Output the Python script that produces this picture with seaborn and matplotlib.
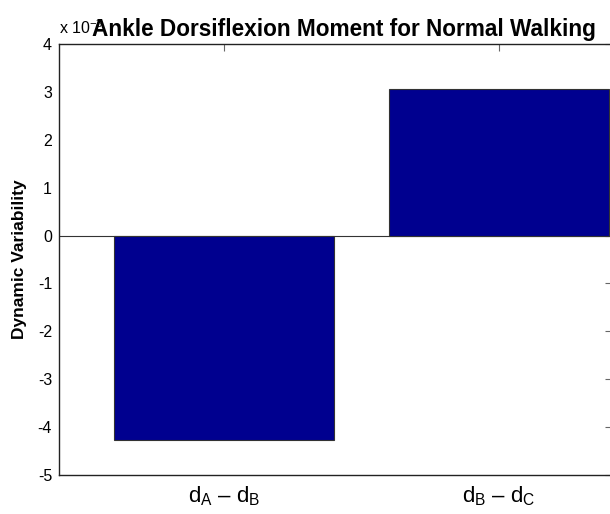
import numpy as np
import pandas as pd
import matplotlib
matplotlib.use('Agg')
import matplotlib.pyplot as plt
import seaborn as sns

# values in units of 1e-3
labels = ['d$_\\mathregular{A}$ \u2013 d$_\\mathregular{B}$', 'd$_\\mathregular{B}$ \u2013 d$_\\mathregular{C}$']
values = [-4.27, 3.05]
yticks = [-5, -4, -3, -2, -1, 0, 1, 2, 3, 4]

sns.set_style('white')
plt.rcParams['font.family'] = ['Liberation Sans', 'DejaVu Sans']
plt.rcParams['mathtext.fontset'] = 'custom'
plt.rcParams['mathtext.rm'] = 'Liberation Sans'
plt.rcParams['text.color'] = 'black'

df = pd.DataFrame({'pair': labels, 'dv': values})

fig = plt.figure(figsize=(6.1, 5.14), dpi=100)
# right edge of the axes sits just past the image edge, as in the original
ax = fig.add_axes([59 / 610, 1 - 475 / 514, 553 / 610, 431 / 514])

sns.barplot(data=df, x='pair', y='dv', color='#00008F', saturation=1,
            edgecolor='#333333', linewidth=0.8, width=0.8, ax=ax)
ax.axhline(0, color='#333333', lw=0.8, zorder=0)

ax.set_xlim(-0.6, 1.41)
ax.set_ylim(-5, 4)
ax.set_yticks(yticks)
ax.set_yticklabels([str(t) for t in yticks], fontsize=11.5)
ax.tick_params(axis='x', labelsize=16, pad=7)
ax.tick_params(axis='y', pad=5)
ax.tick_params(direction='in', length=5, width=0.8, colors='#666666',
               top=True, right=True, labelcolor='black')
for s in ax.spines.values():
    s.set_color('#222222')
    s.set_linewidth(1.0)

ax.set_xlabel('')
ax.set_ylabel('Dynamic Variability', fontsize=12.5, fontweight='bold',
              labelpad=8, color='black')
# exponent marker, partly hidden behind the title as in the original
ax.text(0.0, 1.017, 'x 10$^{-3}$', transform=ax.transAxes, fontsize=11.5,
        ha='left', va='bottom', zorder=1)
ax.set_title('Ankle Dorsiflexion Moment for Normal Walking', fontsize=16.3,
             fontweight='bold', pad=6, color='black', zorder=5, x=0.516)

fig.savefig('out.png', dpi=100)
